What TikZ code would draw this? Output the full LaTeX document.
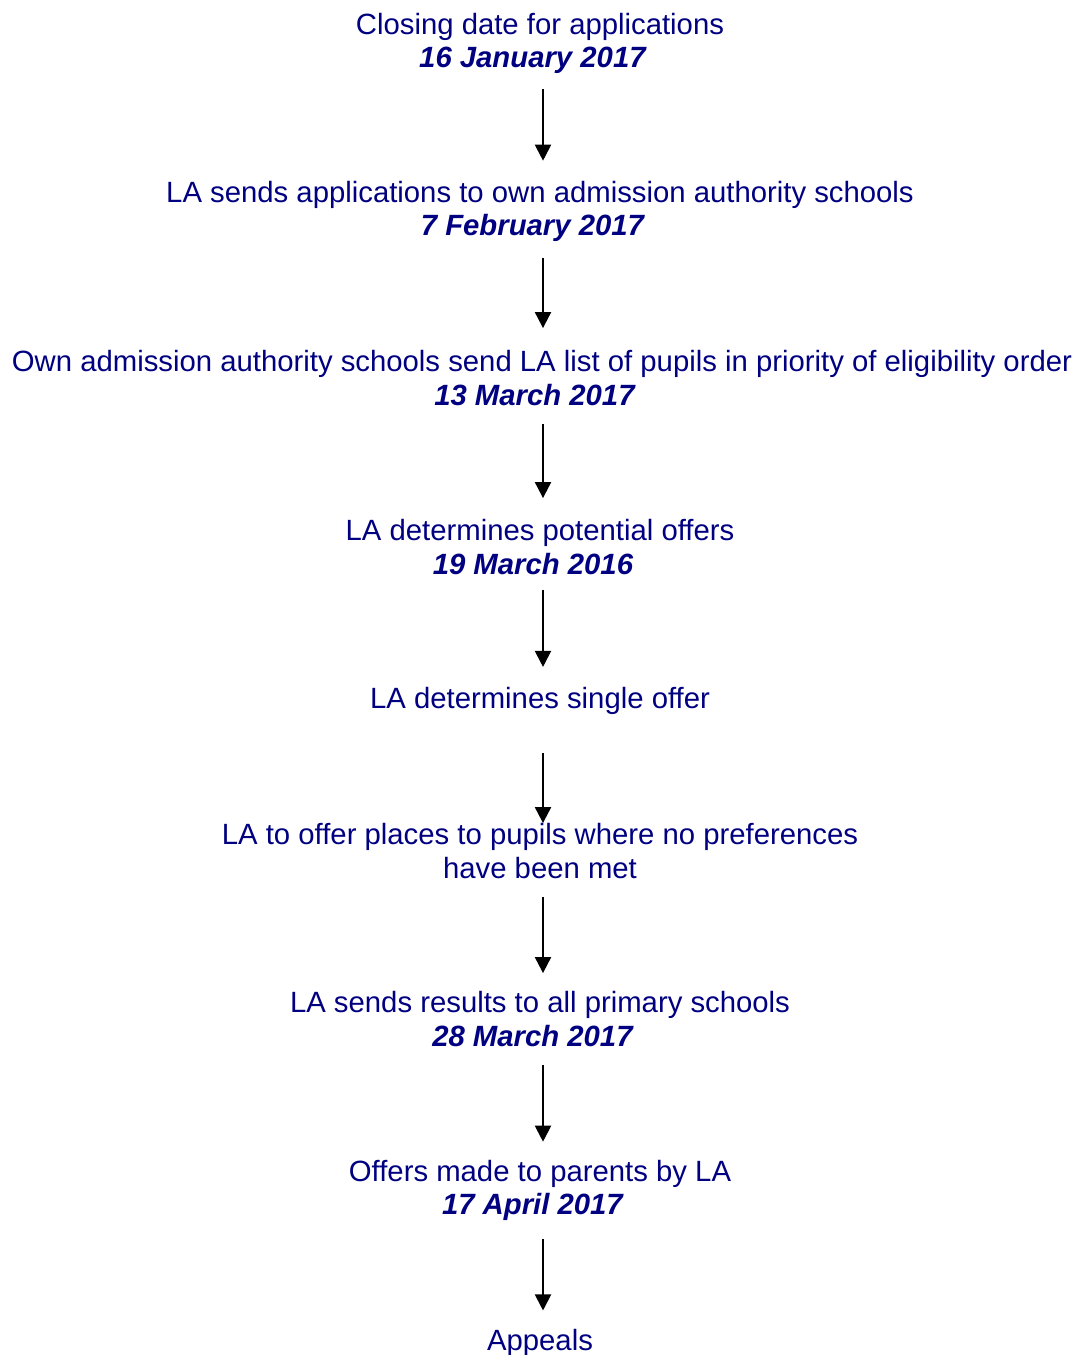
\documentclass[tikz,border=0pt]{standalone}
\usepackage{fontspec}
\setmainfont{Liberation Sans}
\usetikzlibrary{arrows.meta,positioning}
\definecolor{tlNavy}{RGB}{0,0,128}
\definecolor{tlInk}{RGB}{0,0,0}
\newcommand{\tldate}[1]{\textbf{\textit{#1}}\hspace*{7pt}}

\begin{document}
\begin{tikzpicture}[x=0.5pt,y=-0.5pt,
  stage/.style={align=center,inner sep=0pt,text=tlNavy,
    font=\fontsize{14.65}{16.75}\selectfont},
  flow/.style={draw=tlInk,line width=1pt,shorten <=9pt,shorten >=9pt,
    -{Triangle[length=8pt,width=8pt]}}]
  \useasboundingbox (0,0) rectangle (1080,1355);
  \coordinate (axis) at (543,0);
  % timeline stages
  \node[stage] (close) at (540,43.5) {Closing date for applications\\ \tldate{16 January 2017}};
  \node[stage] (send) at (540,211.5) {LA sends applications to own admission authority schools\\ \tldate{7 February 2017}};
  \node[stage] (list) at (542,378) {Own admission authority schools send LA list of pupils in priority of eligibility order\\ \tldate{13 March 2017}};
  \node[stage] (potential) at (540,547) {LA determines potential offers\\ \tldate{19 March 2016}};
  \node[stage] (single) at (540,701) {LA determines single offer};
  \node[stage] (nopref) at (540,851) {LA to offer places to pupils where no preferences\\ have been met};
  \node[stage] (results) at (540,1019) {LA sends results to all primary schools\\ \tldate{28 March 2017}};
  \node[stage] (offers) at (540,1190.5) {Offers made to parents by LA\\ \tldate{17 April 2017}};
  \node[stage] (appeals) at (540,1342.5) {Appeals};
  % arrows
  \draw[flow,shorten <=7.5pt,shorten >=10pt] (close.south -| axis) -- (send.north -| axis);
  \draw[flow,shorten <=8pt,shorten >=11pt] (send.south -| axis) -- (list.north -| axis);
  \draw[flow,shorten >=10.5pt] (list.south -| axis) -- (potential.north -| axis);
  \draw[flow,shorten <=7.5pt,shorten >=10pt] (potential.south -| axis) -- (single.north -| axis);
  \draw[flow,shorten <=19pt,shorten >=0pt] (single.south -| axis) -- (nopref.north -| axis);
  \draw[flow] (nopref.south -| axis) -- (results.north -| axis);
  \draw[flow] (results.south -| axis) -- (offers.north -| axis);
  \draw[flow] (offers.south -| axis) -- (appeals.north -| axis);
\end{tikzpicture}
\end{document}
